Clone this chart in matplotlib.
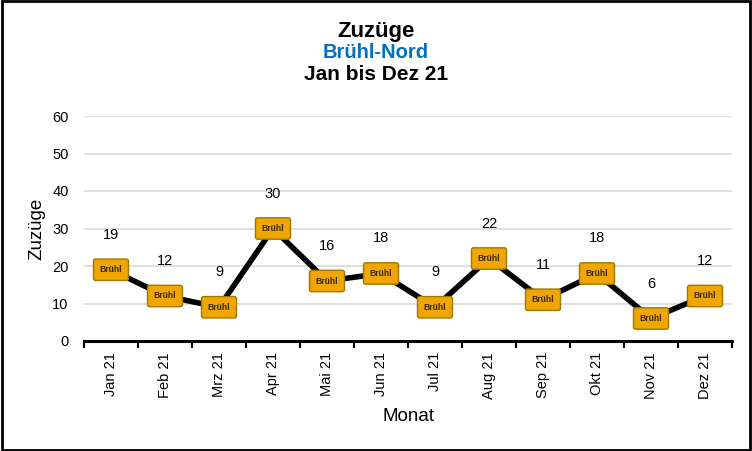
import matplotlib
matplotlib.use("Agg")
import matplotlib.pyplot as plt
from matplotlib.patches import Rectangle
import numpy as np

plt.rcParams['font.family'] = ['Liberation Sans', 'DejaVu Sans']

months = ["Jan 21", "Feb 21", "Mrz 21", "Apr 21", "Mai 21", "Jun 21",
          "Jul 21", "Aug 21", "Sep 21", "Okt 21", "Nov 21", "Dez 21"]
values = [19, 12, 9, 30, 16, 18, 9, 22, 11, 18, 6, 12]
yticks = [0, 10, 20, 30, 40, 50, 60]

fig = plt.figure(figsize=(7.52, 4.51), dpi=100)
ax = fig.add_axes([84/752, 1-341/451, 648/752, 225/451])

x = np.arange(len(months))
ax.plot(x, values, color='black', lw=4, zorder=3, solid_joinstyle='miter')
for xi, v in zip(x, values):
    ax.text(xi, v, "Brühl", fontsize=6.2, fontweight='bold', ha='center', va='center',
            color='#3a2a00', zorder=4,
            bbox=dict(boxstyle='round,pad=0.72,rounding_size=0.25', fc='#F0A500',
                      ec='#9C7A00', lw=1))
    ax.annotate(str(v), (xi, v), xytext=(0, 35), textcoords='offset pixels',
                ha='center', va='center', fontsize=10.5, zorder=5)

ax.set_xlim(-0.5, len(months) - 0.5)
ax.set_ylim(0, 60)
ax.set_yticks(yticks)
ax.set_yticklabels([str(t) for t in yticks], fontsize=10.5)
ax.set_xticks(x)
ax.set_xticklabels(months, rotation=90, fontsize=10.5)
ax.set_xticks(np.arange(-0.5, len(months)), minor=True)
ax.tick_params(axis='x', which='major', length=0, pad=8)
ax.tick_params(axis='x', which='minor', length=5, width=1.5, direction='out', color='black')
ax.tick_params(axis='y', length=0, pad=11)
ax.grid(axis='y', color='#d9d9d9', lw=1.2)
ax.set_axisbelow(True)
for s in ['top', 'right', 'left']:
    ax.spines[s].set_visible(False)
ax.spines['bottom'].set_linewidth(2.2)
ax.spines['bottom'].set_zorder(2)

ax.set_ylabel("Zuzüge", fontsize=13.5, labelpad=5)
ax.set_xlabel("Monat", fontsize=13.5, labelpad=7)

fig.text(0.5, 1-31/451, "Zuzüge", ha='center', va='center', fontsize=16, fontweight='bold')
fig.text(0.5, 1-53/451, "Brühl-Nord", ha='center', va='center', fontsize=14.5,
         fontweight='bold', color='#0070C0')
fig.text(0.5, 1-75/451, "Jan bis Dez 21", ha='center', va='center', fontsize=15,
         fontweight='bold')

fig.patches.append(Rectangle((0.002, 0.003), 0.996, 0.994, transform=fig.transFigure,
                             fill=False, ec='black', lw=2))

fig.savefig("out.png", dpi=100)
